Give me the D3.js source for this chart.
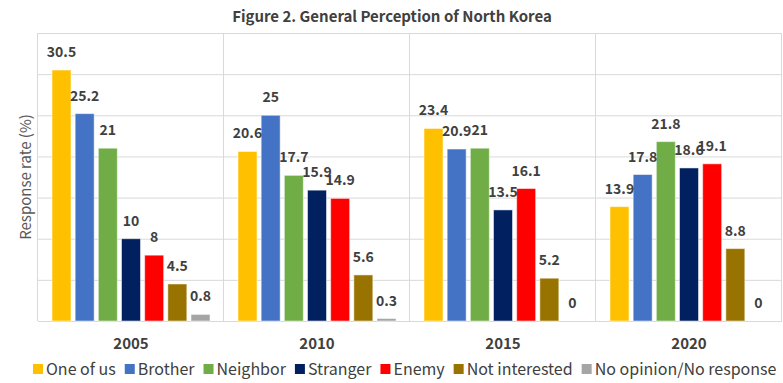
<!DOCTYPE html>
<html>
<head>
<meta charset="utf-8">
<script src="https://cdn.jsdelivr.net/npm/d3@7"></script>
<style>
    body { margin: 0; background: #fff; }
    svg { display: block; font-family: "Noto Sans CJK KR", "Noto Sans", sans-serif; }
</style>
</head>
<body>
<svg id="chart" width="783" height="383"></svg>
<script>
// data
const years = ["2005", "2010", "2015", "2020"];
const series = ["One of us", "Brother", "Neighbor", "Stranger", "Enemy", "Not interested", "No opinion/No response"];
const colors = ["#FFC000", "#4472C4", "#70AD47", "#002060", "#FF0000", "#997300", "#A5A5A5"];
const values2005 = [30.5, 25.2, 21, 10, 8, 4.5, 0.8];
const values2010 = [20.6, 25, 17.7, 15.9, 14.9, 5.6, 0.3];
const values2015 = [23.4, 20.9, 21, 13.5, 16.1, 5.2, 0];
const values2020 = [13.9, 17.8, 21.8, 18.6, 19.1, 8.8, 0];
const yTicks = [0, 5, 10, 15, 20, 25, 30, 35];

const valuesByYear = [values2005, values2010, values2015, values2020];
const rows = [];
years.forEach((year, i) => {
    series.forEach((s, j) => rows.push({ year, series: s, value: valuesByYear[i][j] }));
});

const margin = { top: 33, right: 1, bottom: 62, left: 38 };
const width = 783, height = 383;

const svg = d3.select("#chart");

// scales
const x0 = d3.scaleBand()
    .domain(years)
    .range([margin.left, width - margin.right]);
const x1 = d3.scaleBand()
    .domain(series)
    .range([14, x0.bandwidth() - 14])
    .paddingInner(0.18);
const y = d3.scaleLinear()
    .domain([0, 35])
    .range([height - margin.bottom, margin.top]);
const color = d3.scaleOrdinal().domain(series).range(colors);

// grid
svg.append("g")
    .selectAll("line")
    .data(yTicks)
    .join("line")
    .attr("x1", margin.left)
    .attr("x2", width - margin.right)
    .attr("y1", d => y(d) + 0.5)
    .attr("y2", d => y(d) + 0.5)
    .attr("stroke", "#D9D9D9")
    .attr("stroke-width", 1);

// category separators
const seps = years.map(yr => x0(yr)).concat([x0(years[years.length - 1]) + x0.bandwidth()]);
svg.append("g")
    .selectAll("line")
    .data(seps)
    .join("line")
    .attr("x1", d => Math.round(d) - 0.5)
    .attr("x2", d => Math.round(d) - 0.5)
    .attr("y1", y(35))
    .attr("y2", y(0))
    .attr("stroke", "#D9D9D9")
    .attr("stroke-width", 1);

// bars
const groups = svg.append("g")
    .selectAll("g")
    .data(years)
    .join("g")
    .attr("transform", d => `translate(${x0(d)},0)`);

groups.selectAll("rect")
    .data(yr => rows.filter(r => r.year == yr))
    .join("rect")
    .attr("x", d => x1(d.series))
    .attr("y", d => y(d.value))
    .attr("width", x1.bandwidth())
    .attr("height", d => y(0) - y(d.value))
    .attr("fill", d => color(d.series))
    .attr("stroke", "#fff")
    .attr("stroke-opacity", 0.5)
    .attr("stroke-width", 1);

// value labels
groups.selectAll("text")
    .data(yr => rows.filter(r => r.year == yr))
    .join("text")
    .attr("x", d => x1(d.series) + x1.bandwidth() / 2)
    .attr("y", d => y(d.value) - 13)
    .attr("text-anchor", "middle")
    .attr("font-size", 14)
    .attr("font-weight", "bold")
    .attr("fill", "#404040")
    .text(d => d.value);

// x axis labels
svg.append("g")
    .selectAll("text")
    .data(years)
    .join("text")
    .attr("x", d => x0(d) + x0.bandwidth() / 2)
    .attr("y", 349)
    .attr("text-anchor", "middle")
    .attr("font-size", 15)
    .attr("font-weight", "bold")
    .attr("fill", "#404040")
    .text(d => d);

// title
svg.append("text")
    .attr("x", 392)
    .attr("y", 22)
    .attr("text-anchor", "middle")
    .attr("font-size", 15)
    .attr("font-weight", "bold")
    .attr("fill", "#404040")
    .text("Figure 2. General Perception of North Korea");

// y axis title
svg.append("text")
    .attr("transform", `translate(31, ${(y(0) + y(35)) / 2}) rotate(-90)`)
    .attr("text-anchor", "middle")
    .attr("font-size", 15)
    .attr("fill", "#595959")
    .text("Response rate (%)");

// legend
const legend = svg.append("g").attr("transform", "translate(33, 375)");
let lx = 0;
series.forEach(s => {
    const item = legend.append("g").attr("transform", `translate(${lx},0)`);
    item.append("rect")
        .attr("x", 0)
        .attr("y", -11)
        .attr("width", 10)
        .attr("height", 10)
        .attr("fill", color(s));
    const t = item.append("text")
        .attr("x", 13)
        .attr("y", 0)
        .attr("font-size", 16)
        .attr("fill", "#404040")
        .text(s);
    lx += 13 + t.node().getComputedTextLength() + 9;
});
</script>
</body>
</html>
